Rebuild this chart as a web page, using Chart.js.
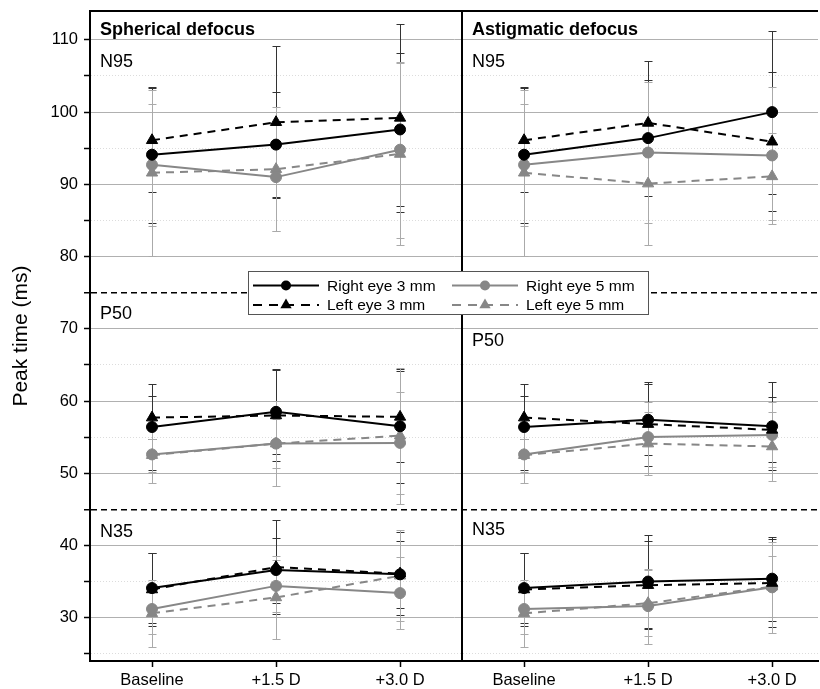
<!DOCTYPE html>
<html>
<head>
<meta charset="utf-8">
<script src="https://cdn.jsdelivr.net/npm/chart.js@4.4.0/dist/chart.umd.min.js"></script>
<style>
    html, body { margin: 0; padding: 0; background: #fff; }
    #wrap { width: 820px; height: 689px; }
</style>
</head>
<body>
<div id="wrap"><canvas id="peakChart" width="820" height="689"></canvas></div>
<script>
// Categories and ticks
const categories = ['Baseline', '+1.5 D', '+3.0 D'];
const xPositions = [0, 1, 2, 3, 4, 5]; // 0-2 spherical panel, 3-5 astigmatic panel
const yTicks = [25, 30, 35, 40, 45, 50, 55, 60, 65, 70, 75, 80, 85, 90, 95, 100, 105, 110];
const yLabelled = [30, 40, 50, 60, 70, 80, 90, 100, 110];
const separators = [45, 75];

// Mean peak times (ms), order: N95 x3, P50 x3, N35 x3
const sphRight3 = [94.1, 95.5, 97.6,   56.4, 58.5, 56.5,   34.1, 36.6, 36.0];
const sphLeft3  = [96.1, 98.6, 99.2,   57.7, 58.0, 57.8,   33.9, 37.0, 36.1];
const sphRight5 = [92.7, 91.0, 94.8,   52.6, 54.1, 54.2,   31.2, 34.4, 33.4];
const sphLeft5  = [91.6, 92.1, 94.2,   52.5, 54.1, 55.2,   30.6, 32.8, 35.8];
const astRight3 = [94.1, 96.4, 100.0,  56.4, 57.4, 56.5,   34.1, 35.0, 35.4];
const astLeft3  = [96.1, 98.5, 95.9,   57.7, 56.8, 56.0,   33.9, 34.5, 34.8];
const astRight5 = [92.7, 94.4, 94.0,   52.6, 55.0, 55.3,   31.2, 31.6, 34.2];
const astLeft5  = [91.6, 90.1, 91.1,   52.5, 54.1, 53.7,   30.6, 32.0, 34.3];

// Standard deviations, same order
const sphRight3Sd = [9.4, 7.3, 10.6,   5.9, 5.9, 7.9,   4.8, 4.5, 4.6];
const sphLeft3Sd  = [7.2, 10.5, 13.0,  3.0, 6.3, 6.3,   5.0, 6.5, 5.7];
const sphRight5Sd = [8.4, 7.5, 12.2,   4.0, 5.9, 7.1,   3.5, 3.6, 5.0];
const sphLeft5Sd  = [11.5, 8.6, 12.6,  2.3, 3.4, 9.4,   4.6, 5.8, 6.3];
const astRight3Sd = [9.4, 8.0, 11.3,   5.9, 4.9, 6.1,   4.8, 6.4, 5.8];
const astLeft3Sd  = [7.2, 8.6, 9.6,    3.0, 5.8, 4.5,   5.0, 6.1, 6.1];
const astRight5Sd = [8.4, 9.8, 9.5,    4.0, 4.9, 4.5,   3.5, 5.2, 6.3];
const astLeft5Sd  = [11.5, 8.5, 6.0,   2.3, 4.4, 4.8,   4.6, 4.6, 4.2];

Chart.defaults.font.family = "'Liberation Sans', Arial, sans-serif";
Chart.defaults.color = '#000';

const GRAY = '#878787';
const FONT = "'Liberation Sans', Arial, sans-serif";

// one point per category, with a null point between components so lines break
function toPoints(values, sds, offset) {
    const pts = [];
    values.forEach((v, i) => {
        if (i > 0 && i % categories.length === 0) pts.push({ x: offset + 2, y: null });
        pts.push({ x: offset + (i % categories.length), y: v, e: sds[i] });
    });
    return pts;
}

const styles = {
    right3: { borderColor: '#000', backgroundColor: '#000', pointBorderColor: '#000', pointStyle: 'circle', pointRadius: 5.5, borderDash: [], errorColor: '#333' },
    left3:  { borderColor: '#000', backgroundColor: '#000', pointBorderColor: '#000', pointStyle: 'triangle', pointRadius: 6.5, borderDash: [8, 6], errorColor: '#333' },
    right5: { borderColor: GRAY, backgroundColor: GRAY, pointBorderColor: GRAY, pointStyle: 'circle', pointRadius: 5.5, borderDash: [], errorColor: '#aaa' },
    left5:  { borderColor: GRAY, backgroundColor: GRAY, pointBorderColor: GRAY, pointStyle: 'triangle', pointRadius: 6.5, borderDash: [8, 6], errorColor: '#aaa' }
};

function makeSet(label, values, sds, offset, style) {
    return Object.assign({
        label: label,
        data: toPoints(values, sds, offset),
        borderWidth: 2,
        pointBorderWidth: 1,
        spanGaps: false,
        tension: 0,
        fill: false,
        inLegend: offset === 0
    }, style);
}

const datasets = [
    makeSet('Right eye 3 mm', sphRight3, sphRight3Sd, 0, styles.right3),
    makeSet('Left eye 3 mm', sphLeft3, sphLeft3Sd, 0, styles.left3),
    makeSet('Right eye 5 mm', sphRight5, sphRight5Sd, 0, styles.right5),
    makeSet('Left eye 5 mm', sphLeft5, sphLeft5Sd, 0, styles.left5),
    makeSet('Right eye 3 mm', astRight3, astRight3Sd, 3, styles.right3),
    makeSet('Left eye 3 mm', astLeft3, astLeft3Sd, 3, styles.left3),
    makeSet('Right eye 5 mm', astRight5, astRight5Sd, 3, styles.right5),
    makeSet('Left eye 5 mm', astLeft5, astLeft5Sd, 3, styles.left5)
];

function drawMarker(ctx, style, x, y, r) {
    ctx.beginPath();
    if (style === 'triangle') {
        for (let k = 0; k < 3; k++) {
            const a = -Math.PI / 2 + k * 2 * Math.PI / 3;
            const px = x + r * Math.cos(a), py = y + r * Math.sin(a);
            if (k === 0) ctx.moveTo(px, py); else ctx.lineTo(px, py);
        }
        ctx.closePath();
    } else {
        ctx.arc(x, y, r, 0, Math.PI * 2);
    }
    ctx.fill();
}

// error bars, frame and panel divider
const panelPlugin = {
    id: 'panelPlugin',
    beforeDatasetsDraw(chart) {
        const { ctx, chartArea, scales: { x, y } } = chart;
        chart.data.datasets.forEach((ds, i) => {
            const meta = chart.getDatasetMeta(i);
            ctx.save();
            ctx.strokeStyle = ds.errorColor;
            ctx.lineWidth = 1;
            meta.data.forEach((pt, j) => {
                const d = ds.data[j];
                if (d.y == null || d.e == null) return;
                const px = Math.round(pt.x) + 0.5;
                const top = Math.round(y.getPixelForValue(d.y + d.e)) + 0.5;
                const bot = Math.round(y.getPixelForValue(d.y - d.e)) + 0.5;
                ctx.beginPath();
                ctx.moveTo(px, top); ctx.lineTo(px, bot);
                ctx.moveTo(px - 4, top); ctx.lineTo(px + 4, top);
                ctx.moveTo(px - 4, bot); ctx.lineTo(px + 4, bot);
                ctx.stroke();
            });
            ctx.restore();
        });

        ctx.save();
        ctx.strokeStyle = '#000';
        ctx.lineWidth = 2;
        ctx.beginPath();
        ctx.moveTo(chartArea.left, chartArea.top);
        ctx.lineTo(chartArea.right, chartArea.top);
        const dx = Math.round(x.getPixelForValue(2.5));
        ctx.moveTo(dx, chartArea.top);
        ctx.lineTo(dx, chartArea.bottom);
        ctx.stroke();
        ctx.restore();
    },
    afterDatasetsDraw(chart, args, opts) {
        const { ctx, chartArea, scales: { x, y } } = chart;
        const panelLeft = [chartArea.left + 10, Math.round(x.getPixelForValue(2.5)) + 10];
        ctx.save();
        ctx.fillStyle = '#000';
        ctx.textBaseline = 'middle';
        ctx.textAlign = 'left';
        ctx.font = 'bold 18px ' + FONT;
        opts.titles.forEach((t, p) => ctx.fillText(t, panelLeft[p], y.getPixelForValue(opts.titleAt)));
        ctx.font = '18px ' + FONT;
        opts.components.forEach(c => {
            c.at.forEach((v, p) => ctx.fillText(c.text, panelLeft[p], y.getPixelForValue(v)));
        });

        // legend box
        const b = opts.legendBox;
        ctx.fillStyle = '#fff';
        ctx.fillRect(b.left, b.top, b.width, b.height);
        ctx.strokeStyle = '#555';
        ctx.lineWidth = 1;
        ctx.strokeRect(b.left + 0.5, b.top + 0.5, b.width, b.height);
        ctx.font = '15.5px ' + FONT;
        chart.data.datasets.filter(ds => ds.inLegend).forEach((ds, k) => {
            const col = Math.floor(k / 2), row = k % 2;
            const lx = b.left + 5 + col * 199;
            const ly = b.top + 14.5 + row * 19.5;
            ctx.strokeStyle = ds.borderColor;
            ctx.lineWidth = 2;
            ctx.setLineDash(ds.borderDash.length ? [9, 7] : []);
            ctx.beginPath();
            ctx.moveTo(lx, ly);
            ctx.lineTo(lx + 66, ly);
            ctx.stroke();
            ctx.setLineDash([]);
            ctx.fillStyle = ds.backgroundColor;
            drawMarker(ctx, ds.pointStyle, lx + 33, ly, ds.pointStyle === 'triangle' ? 6.5 : 5);
            ctx.fillStyle = '#000';
            ctx.fillText(ds.label, lx + 74, ly + 1);
        });
        ctx.restore();
    }
};

const isMajor = v => yLabelled.includes(v);
const isSeparator = v => separators.includes(v);

new Chart(document.getElementById('peakChart'), {
    type: 'line',
    data: { datasets: datasets },
    plugins: [panelPlugin],
    options: {
        responsive: false,
        animation: false,
        events: [],
        layout: { autoPadding: false, padding: { top: 11, right: 2, left: 0, bottom: 0 } },
        plugins: {
            legend: { display: false },
            tooltip: { enabled: false },
            panelPlugin: {
                titles: ['Spherical defocus', 'Astigmatic defocus'],
                titleAt: 111.3,
                components: [
                    { text: 'N95', at: [107.0, 107.0] },
                    { text: 'P50', at: [72.0, 68.3] },
                    { text: 'N35', at: [41.9, 42.2] }
                ],
                legendBox: { left: 248, top: 271, width: 400, height: 43 }
            }
        },
        scales: {
            x: {
                type: 'linear',
                min: -0.5,
                max: 5.37,
                afterBuildTicks: s => { s.ticks = xPositions.map(v => ({ value: v })); },
                afterFit: s => { s.height = 28; s.paddingLeft = 0; s.paddingRight = 0; },
                ticks: {
                    callback: v => categories[v % categories.length],
                    font: { size: 16.5 },
                    color: '#000',
                    padding: 4,
                    maxRotation: 0,
                    autoSkip: false
                },
                grid: { drawOnChartArea: false, drawTicks: true, tickLength: 6, tickColor: '#000', tickWidth: 1.5 },
                border: { color: '#000', width: 2 }
            },
            y: {
                type: 'linear',
                min: 24,
                max: 114,
                afterBuildTicks: s => { s.ticks = yTicks.map(v => ({ value: v })); },
                afterFit: s => { s.width = 90; s.paddingTop = 0; s.paddingBottom = 0; },
                ticks: {
                    callback: v => isMajor(v) ? v : '',
                    font: { size: 16.5 },
                    color: '#000',
                    padding: 6,
                    autoSkip: false
                },
                grid: {
                    color: c => {
                        const v = c.tick ? c.tick.value : null;
                        if (isSeparator(v)) return '#000';
                        return isMajor(v) ? '#b0b0b0' : '#dcdcdc';
                    },
                    lineWidth: c => (c.tick && isSeparator(c.tick.value)) ? 1.5 : 1,
                    drawTicks: true,
                    tickLength: 6,
                    tickColor: '#000',
                    tickWidth: 1.5
                },
                border: {
                    color: '#000',
                    width: 2,
                    dash: c => {
                        if (!c.tick) return [];
                        if (isSeparator(c.tick.value)) return [6, 4];
                        return isMajor(c.tick.value) ? [] : [1, 2];
                    }
                },
                title: {
                    display: true,
                    text: 'Peak time (ms)',
                    font: { size: 21 },
                    color: '#000',
                    padding: { top: 9, bottom: 0 }
                }
            }
        }
    }
});
</script>
</body>
</html>
